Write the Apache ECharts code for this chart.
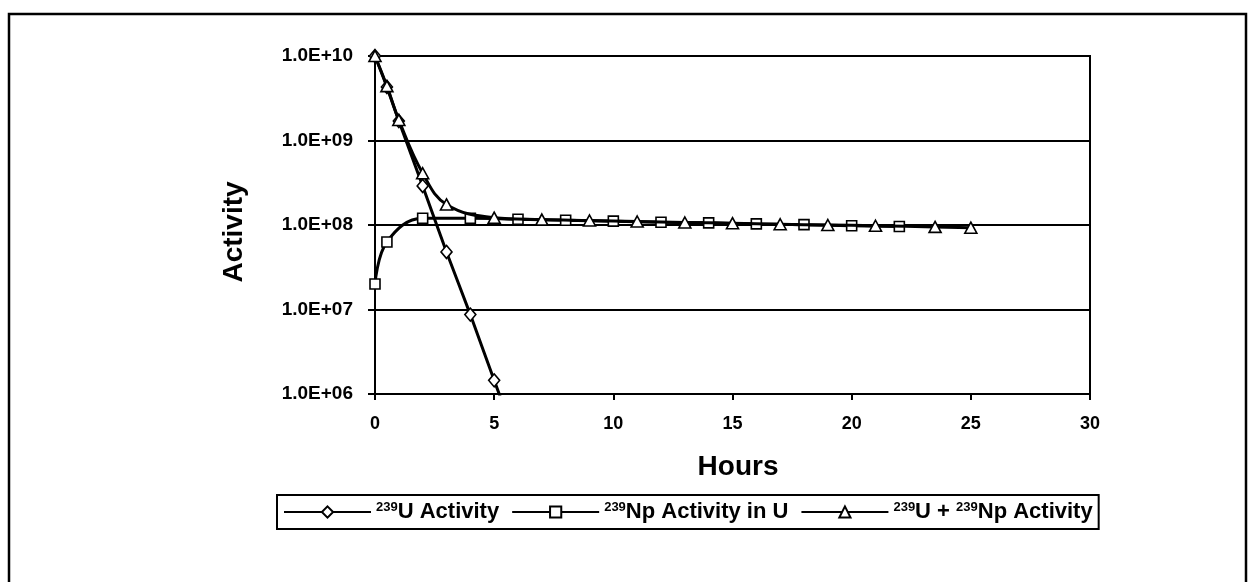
<!DOCTYPE html>
<html>
<head>
<meta charset="utf-8">
<script src="https://cdn.jsdelivr.net/npm/echarts@6/dist/echarts.min.js"></script>
<style>
  html, body { margin: 0; padding: 0; background: #fff; }
  #chart { width: 1256px; height: 582px; }
</style>
</head>
<body>
<div id="chart"></div>
<script>
// Decay of U-239 and in-growth of Np-239 (activity vs. time in hours)
const uHours = [0, 0.5, 1, 2, 3, 4, 5, 6];
const uActivity = [1.0e10, 4.3e9, 1.7e9, 2.9e8, 4.8e7, 8.7e6, 1.45e6, 2.5e5];

const npHours = [0, 0.5, 2, 4, 6, 8, 10, 12, 14, 16, 18, 20, 22];
const npActivity = [2.0e7, 6.3e7, 1.2e8, 1.2e8, 1.17e8, 1.14e8, 1.11e8, 1.08e8, 1.06e8, 1.03e8, 1.01e8, 9.8e7, 9.6e7];

const sumHours = [0, 0.5, 1, 2, 3, 5, 7, 9, 11, 13, 15, 17, 19, 21, 23.5, 25];
const sumActivity = [1.0e10, 4.4e9, 1.75e9, 4.1e8, 1.75e8, 1.22e8, 1.16e8, 1.13e8, 1.1e8, 1.07e8, 1.05e8, 1.02e8, 1.0e8, 9.8e7, 9.5e7, 9.3e7];

const xTicks = [0, 5, 10, 15, 20, 25, 30];
const yTickLabels = ['1.0E+06', '1.0E+07', '1.0E+08', '1.0E+09', '1.0E+10'];

const seriesNames = ['239U Activity', '239Np Activity in U', '239U + 239Np Activity'];
const legendRich = {
  '239U Activity': '{s|239}{t|U Activity}',
  '239Np Activity in U': '{s|239}{t|Np Activity in U}',
  '239U + 239Np Activity': '{s|239}{t|U + }{s|239}{t|Np Activity}'
};

const FONT = 'Liberation Sans, Arial, sans-serif';

function pairs(xs, ys) {
  return xs.map((x, i) => [x, ys[i]]);
}

const markerStyle = { color: '#fff', borderColor: '#000', borderWidth: 1.6 };

const chart = echarts.init(document.getElementById('chart'), null, { renderer: 'canvas' });

chart.setOption({
  backgroundColor: '#fff',
  animation: false,
  grid: {
    left: 375, top: 56, width: 715, height: 338,
    show: true, borderColor: '#000', borderWidth: 2, backgroundColor: 'transparent'
  },
  xAxis: {
    type: 'value', min: xTicks[0], max: xTicks[xTicks.length - 1], interval: 5,
    axisLine: { lineStyle: { color: '#000', width: 2 } },
    axisTick: { show: true, length: 6, lineStyle: { color: '#000', width: 2 } },
    splitLine: { show: false },
    axisLabel: {
      margin: 21, color: '#000', fontFamily: FONT, fontWeight: 'bold', fontSize: 18,
      formatter: v => String(v)
    }
  },
  yAxis: {
    type: 'log', logBase: 10, min: 1e6, max: 1e10,
    axisLine: { show: true, lineStyle: { color: '#000', width: 2 } },
    axisTick: { show: true, length: 7, lineStyle: { color: '#000', width: 2 } },
    splitLine: { show: true, lineStyle: { color: '#000', width: 2 } },
    axisLabel: {
      margin: 22, color: '#000', fontFamily: FONT, fontWeight: 'bold', fontSize: 19,
      formatter: v => yTickLabels[Math.round(Math.log10(v)) - 6]
    }
  },
  legend: {
    data: seriesNames,
    left: 277, top: 495,
    orient: 'horizontal',
    borderColor: '#000', borderWidth: 2,
    padding: [6, 6, 6, 6],
    itemWidth: 87, itemHeight: 14, itemGap: 12,
    lineStyle: { width: 2 },
    formatter: name => legendRich[name],
    textStyle: {
      color: '#000', fontFamily: FONT, fontWeight: 'bold',
      rich: {
        s: { fontSize: 13, fontWeight: 'bold', fontFamily: FONT, verticalAlign: 'top', lineHeight: 22, color: '#000' },
        t: { fontSize: 22, fontWeight: 'bold', fontFamily: FONT, lineHeight: 22, color: '#000' }
      }
    }
  },
  graphic: [
    {
      type: 'rect', silent: true, z: -1,
      shape: { x: 9, y: 14, width: 1237, height: 620 },
      style: { fill: 'none', stroke: '#000', lineWidth: 2.5 }
    },
    {
      type: 'text', silent: true,
      x: 738, y: 467,
      style: { text: 'Hours', font: 'bold 28px ' + FONT, fill: '#000', textAlign: 'center', textVerticalAlign: 'middle' }
    },
    {
      type: 'text', silent: true,
      x: 234, y: 232, rotation: Math.PI / 2,
      style: { text: 'Activity', font: 'bold 28px ' + FONT, fill: '#000', textAlign: 'center', textVerticalAlign: 'middle' }
    }
  ],
  series: [
    {
      name: seriesNames[0], type: 'line', data: pairs(uHours, uActivity),
      smooth: 0.2, clip: true,
      symbol: 'diamond', symbolSize: [11, 13],
      lineStyle: { color: '#000', width: 3 },
      itemStyle: markerStyle, z: 3
    },
    {
      name: seriesNames[1], type: 'line', data: pairs(npHours, npActivity),
      smooth: 0.4, clip: true,
      symbol: 'rect', symbolSize: 10,
      lineStyle: { color: '#000', width: 3 },
      itemStyle: markerStyle, z: 4
    },
    {
      name: seriesNames[2], type: 'line', data: pairs(sumHours, sumActivity),
      smooth: 0.4, clip: true,
      symbol: 'triangle', symbolSize: [12, 11],
      lineStyle: { color: '#000', width: 3 },
      itemStyle: markerStyle, z: 5
    }
  ]
});
</script>
</body>
</html>
